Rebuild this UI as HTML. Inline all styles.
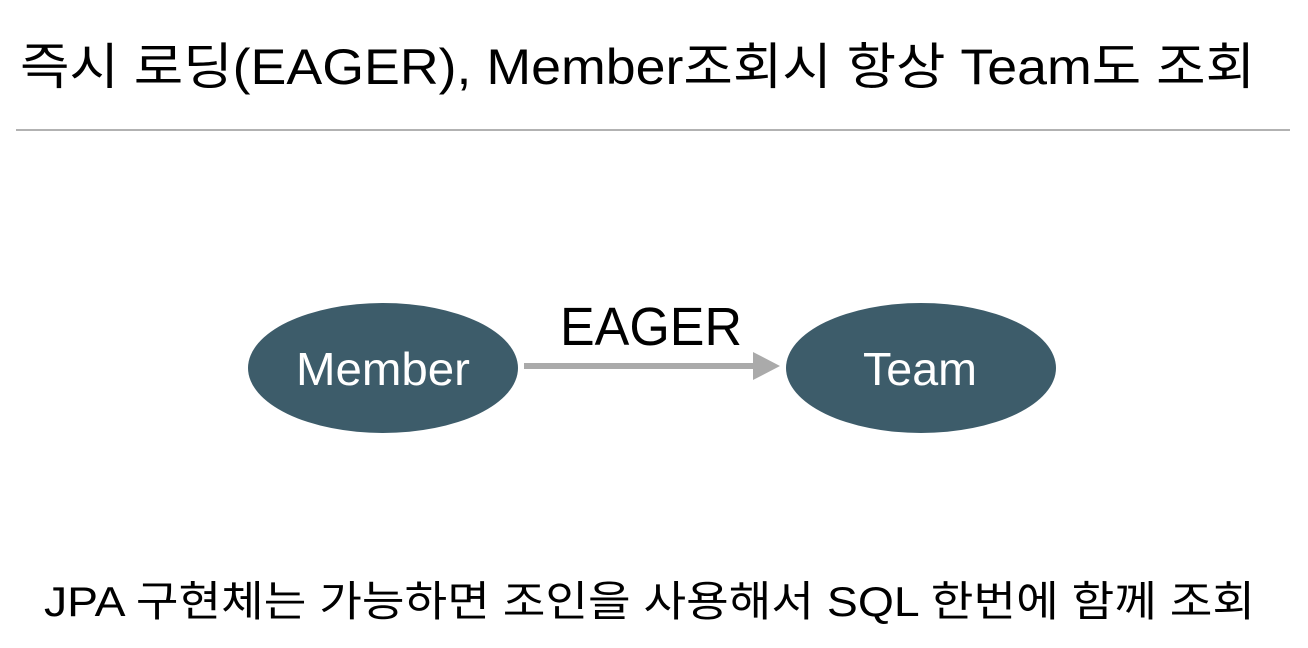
<!DOCTYPE html>
<html><head><meta charset="utf-8"><style>
body{margin:0;width:1308px;height:648px;background:#fff;overflow:hidden;}
</style></head><body>
<svg width="1308" height="648" xmlns="http://www.w3.org/2000/svg" style="display:block">
<text x="20" y="84" textLength="1235" lengthAdjust="spacingAndGlyphs" font-family="'Liberation Sans','Noto Sans CJK KR',sans-serif" font-size="50" fill="#000">즉시 로딩(EAGER), Member조회시 항상 Team도 조회</text>
<line x1="16" y1="130" x2="1290" y2="130" stroke="#999" stroke-width="1.5"/>
<ellipse cx="383" cy="368" rx="135" ry="65" fill="#3d5c6a"/>
<ellipse cx="921" cy="368" rx="135" ry="65" fill="#3d5c6a"/>
<text x="296" y="385" textLength="174" lengthAdjust="spacingAndGlyphs" font-family="'Liberation Sans',sans-serif" font-size="46" fill="#fff">Member</text>
<text x="863" y="385" textLength="114" lengthAdjust="spacingAndGlyphs" font-family="'Liberation Sans',sans-serif" font-size="46" fill="#fff">Team</text>
<rect x="524" y="363" width="232" height="6" fill="#aaa"/>
<polygon points="753,352 780,366 753,380" fill="#aaa"/>
<text x="560" y="345" textLength="182" lengthAdjust="spacingAndGlyphs" font-family="'Liberation Sans',sans-serif" font-size="54" fill="#000">EAGER</text>
<text x="44" y="616" textLength="1211" lengthAdjust="spacingAndGlyphs" font-family="'Liberation Sans','Noto Sans CJK KR',sans-serif" font-size="42" fill="#000">JPA 구현체는 가능하면 조인을 사용해서 SQL 한번에 함께 조회</text>
</svg>
</body></html>
